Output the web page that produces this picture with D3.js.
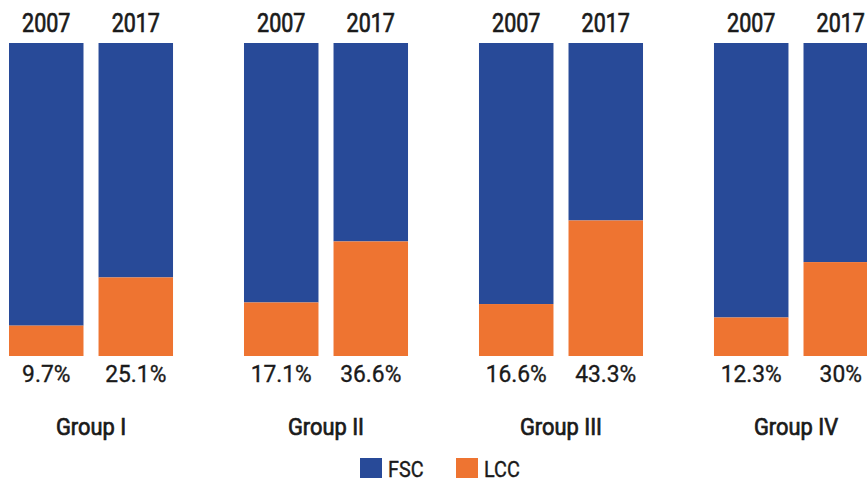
<!DOCTYPE html>
<html lang="en">
  <head>
    <meta charset="UTF-8" />
    <title>FSC vs LCC share</title>
    <style>
      body { margin: 0; background: #fff; }
      text { font-family: Roboto, "Liberation Sans", sans-serif; fill: #1a1a1a; }
    </style>
  </head>
  <body>
    <svg width="867" height="482" xmlns="http://www.w3.org/2000/svg"></svg>
  </body>
  <script src="https://cdn.jsdelivr.net/npm/d3@7/dist/d3.min.js"></script>
  <script>
    const groups = ["Group I", "Group II", "Group III", "Group IV"];
    const years = ["2007", "2017"];
    const lccShare = [
      [9.7, 25.1],
      [17.1, 36.6],
      [16.6, 43.3],
      [12.3, 30],
    ];
    const lccLabels = [
      ["9.7%", "25.1%"],
      ["17.1%", "36.6%"],
      ["16.6%", "43.3%"],
      ["12.3%", "30%"],
    ];
    const legendKeys = ["FSC", "LCC"];

    const colors = { FSC: "#284a98", LCC: "#ee7431" };

    const svg = d3.select("svg");

    const x0 = d3.scaleBand().domain(groups).range([9, 878]).paddingInner(0.302).paddingOuter(0);
    const x1 = d3.scaleBand().domain(years).range([0, x0.bandwidth()]).paddingInner(0.168);
    const y = d3.scaleLinear().domain([0, 100]).range([356, 43]);

    const g = svg
      .selectAll(".group")
      .data(groups)
      .join("g")
      .attr("class", "group")
      .attr("transform", d => `translate(${x0(d)},0)`);

    g.each(function (grp, gi) {
      const sel = d3.select(this);
      years.forEach((yr, yi) => {
        const lcc = lccShare[gi][yi];
        const bx = x1(yr);
        const bw = x1.bandwidth();
        // FSC is the rest up to 100%
        sel.append("rect")
          .attr("x", bx).attr("width", bw)
          .attr("y", y(100)).attr("height", y(lcc) - y(100))
          .attr("fill", colors.FSC);
        sel.append("rect")
          .attr("x", bx).attr("width", bw)
          .attr("y", y(lcc)).attr("height", y(0) - y(lcc))
          .attr("fill", colors.LCC);

        const cx = bx + bw / 2;
        sel.append("text")
          .attr("transform", `translate(${cx},32) scale(0.86,1)`)
          .attr("text-anchor", "middle")
          .attr("font-size", 25)
          .attr("stroke", "#1a1a1a")
          .attr("stroke-width", 0.7)
          .text(yr);
        sel.append("text")
          .attr("transform", `translate(${cx},382) scale(0.95,1)`)
          .attr("text-anchor", "middle")
          .attr("font-size", 24)
          .attr("stroke", "#1a1a1a")
          .attr("stroke-width", 0.35)
          .text(lccLabels[gi][yi]);
      });
      sel.append("text")
        .attr("transform", `translate(${x0.bandwidth() / 2},435) scale(0.95,1)`)
        .attr("text-anchor", "middle")
        .attr("font-size", 23)
        .attr("stroke", "#1a1a1a")
        .attr("stroke-width", 0.7)
        .text(grp);
    });

    // legend
    const legendX = d3.scaleOrdinal().domain(legendKeys).range([360, 456]);
    const lg = svg.selectAll(".legend")
      .data(legendKeys)
      .join("g")
      .attr("class", "legend")
      .attr("transform", d => `translate(${legendX(d)},458)`);
    lg.append("rect").attr("width", 22).attr("height", 20).attr("fill", d => colors[d]);
    lg.append("text")
      .attr("transform", "translate(28,19) scale(0.9,1)")
      .attr("font-size", 22)
      .attr("stroke", "#1a1a1a")
      .attr("stroke-width", 0.4)
      .text(d => d);
  </script>
</html>
